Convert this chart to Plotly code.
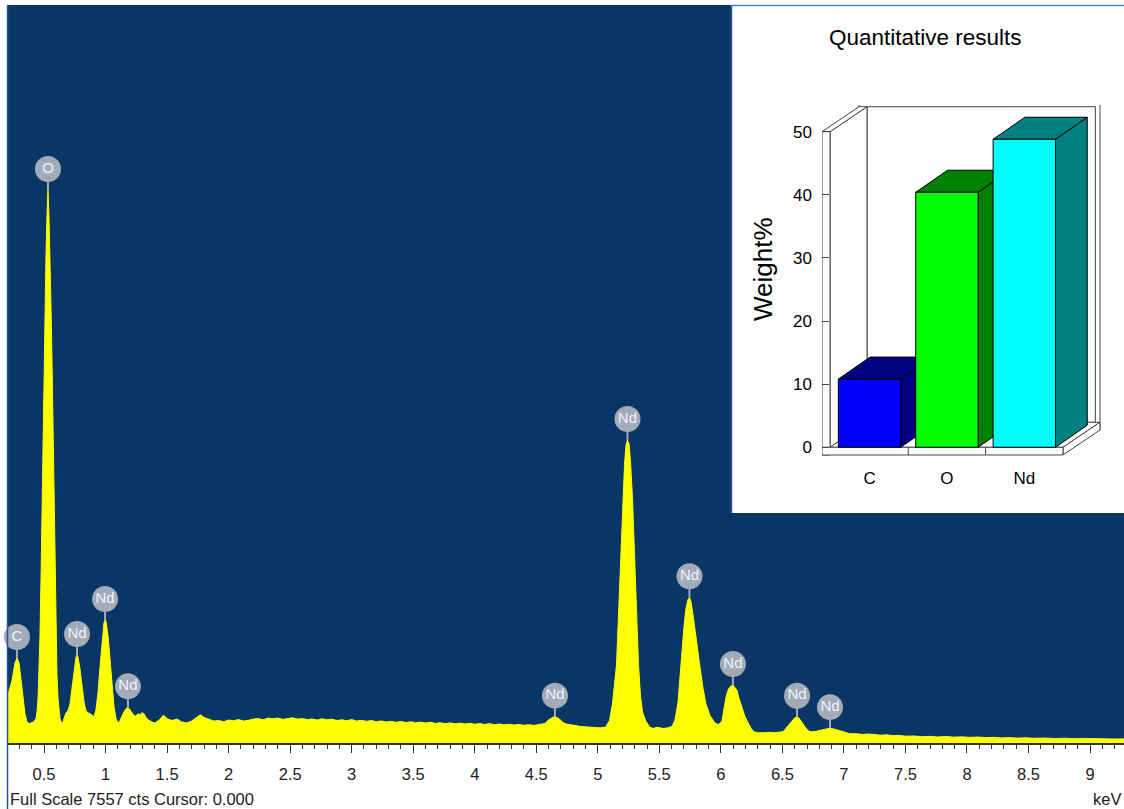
import plotly.graph_objects as go

W, H = 1124, 809

# ---------------- spectrum data (keV, counts) ----------------
energy_kev = [
    0.207, 0.240, 0.264, 0.280, 0.297, 0.313, 0.329, 0.345, 0.362, 0.378,
    0.394, 0.419, 0.435, 0.443, 0.451, 0.459, 0.467, 0.475, 0.484, 0.492,
    0.500, 0.508, 0.516, 0.524, 0.532, 0.540, 0.549, 0.557, 0.565, 0.573,
    0.581, 0.589, 0.597, 0.605, 0.614, 0.622, 0.630, 0.646,
    0.662, 0.679, 0.695, 0.711, 0.727, 0.744, 0.760, 0.768, 0.776, 0.792,
    0.809, 0.825, 0.841, 0.857, 0.874, 0.890, 0.906,
    0.922, 0.939, 0.955, 0.971, 0.987, 0.996, 1.004, 1.020, 1.036, 1.052,
    1.069, 1.085, 1.101,
    1.117, 1.134, 1.150, 1.166, 1.182, 1.199, 1.215, 1.231, 1.247, 1.264,
    1.280, 1.296, 1.312, 1.329, 1.345, 1.361, 1.377, 1.402,
    1.44, 1.47, 1.50, 1.54, 1.58, 1.62, 1.66, 1.70, 1.74, 1.77,
    1.80, 1.84, 1.88, 1.92, 1.96, 2.00, 2.04, 2.08, 2.12, 2.16,
    2.20, 2.24, 2.28, 2.32, 2.36, 2.40, 2.44, 2.48, 2.52, 2.56,
    2.60, 2.64, 2.68, 2.72, 2.76, 2.80, 2.84, 2.88, 2.92, 2.96,
    3.00, 3.04, 3.08, 3.12, 3.16, 3.20, 3.24, 3.28, 3.32, 3.36,
    3.40, 3.44, 3.48, 3.52, 3.56, 3.60, 3.64, 3.68, 3.72, 3.76,
    3.80, 3.84, 3.88, 3.92, 3.96, 4.00, 4.04, 4.08, 4.12, 4.16,
    4.20, 4.24, 4.28, 4.32, 4.36, 4.40, 4.44, 4.48, 4.52,
    4.571, 4.595, 4.620, 4.636, 4.652, 4.669, 4.693, 4.717, 4.742, 4.774,
    4.815, 4.855, 4.896, 4.937, 4.977, 5.018,
    5.062, 5.095, 5.119, 5.136, 5.152, 5.168, 5.184, 5.201, 5.217, 5.229,
    5.241, 5.254, 5.266, 5.282, 5.298, 5.315, 5.331, 5.347, 5.363, 5.388,
    5.420,
    5.448, 5.489, 5.530, 5.571, 5.603,
    5.627, 5.652, 5.668, 5.684, 5.701, 5.717, 5.733, 5.745, 5.757, 5.774,
    5.790, 5.806, 5.830, 5.855, 5.879, 5.912, 5.952, 5.977,
    5.993, 6.009, 6.026, 6.042, 6.058, 6.074, 6.098, 6.115, 6.131, 6.147,
    6.172, 6.196, 6.220, 6.245, 6.269, 6.302,
    6.359, 6.399, 6.440, 6.480, 6.505, 6.529, 6.554, 6.578, 6.602, 6.619,
    6.635, 6.651, 6.667, 6.692, 6.716, 6.740,
    6.765, 6.806, 6.846, 6.887, 6.928, 6.968, 7.009, 7.049,
    7.10, 7.15, 7.20, 7.25, 7.30, 7.35, 7.40, 7.45, 7.50, 7.57,
    7.63, 7.70, 7.76, 7.83, 7.89, 7.96, 8.02, 8.09, 8.15, 8.22,
    8.28, 8.35, 8.41, 8.48, 8.54, 8.63, 8.71, 8.79, 8.87, 8.95,
    9.03, 9.11, 9.19, 9.28,
]
counts = [
    500, 640, 820, 870, 820, 650, 460, 300, 215, 200,
    205, 220, 250, 320, 450, 700, 1100, 1650, 2450, 3200,
    3900, 4450, 5000, 5400, 5663, 5400, 5000, 4450, 3900, 3200,
    2450, 1650, 1100, 700, 450, 320, 250, 190,
    260, 310, 330, 400, 560, 740, 880, 901, 880, 760,
    580, 420, 330, 310, 300, 280, 270,
    340, 520, 780, 1050, 1230, 1260, 1240, 1100, 850, 580,
    370, 250, 205,
    230, 280, 320, 350, 365, 340, 310, 280, 275, 300,
    290, 310, 300, 260, 240, 225, 215, 205,
    240, 285, 250, 230, 245, 215, 205, 225, 260, 290,
    262, 240, 225, 230, 218, 235, 228, 240, 225, 232,
    245, 250, 238, 255, 248, 256, 242, 250, 258, 245,
    250, 240, 246, 235, 248, 238, 244, 230, 238, 228,
    240, 225, 232, 222, 230, 218, 226, 215, 222, 212,
    220, 210, 218, 208, 214, 205, 212, 200, 208, 198,
    206, 196, 204, 195, 202, 192, 200, 190, 198, 188,
    195, 186, 192, 184, 190, 182, 188, 180, 188,
    200, 230, 255, 265, 270, 262, 240, 210, 195, 185,
    180, 170, 165, 160, 158, 155,
    160, 230, 400, 600, 800, 1300, 1850, 2450, 2850, 3050,
    3103, 3060, 2880, 2500, 1950, 1350, 800, 480, 320, 230,
    165,
    150, 160, 148, 155, 170,
    236, 420, 700, 950, 1200, 1380, 1470, 1492, 1450, 1310,
    1150, 970, 781, 560, 400, 280, 205, 190,
    200, 225, 360, 470, 540, 575, 594, 570, 540, 460,
    365, 270, 210, 150, 115, 105,
    105, 110, 105, 110, 116, 150, 190, 225, 260, 269,
    255, 225, 190, 150, 120, 115,
    118, 130, 140, 152, 140, 125, 112, 95,
    95, 88, 92, 85, 80, 84, 75, 78, 70, 72,
    65, 68, 62, 66, 60, 63, 58, 61, 55, 58,
    52, 55, 50, 53, 48, 51, 46, 49, 44, 47,
    43, 45, 41, 42,
]

# identified peaks (keV, counts at the top)
peak_energy = [0.280, 0.532, 0.768, 0.996, 1.182, 4.652, 5.241, 5.745, 6.098, 6.619, 6.887]
peak_counts = [870, 5663, 901, 1260, 365, 270, 3103, 1492, 594, 269, 152]
peak_labels = ["C", "O", "Nd", "Nd", "Nd", "Nd", "Nd", "Nd", "Nd", "Nd", "Nd"]

tick_values = [0.5, 1.0, 1.5, 2.0, 2.5, 3.0, 3.5, 4.0, 4.5, 5.0, 5.5, 6.0, 6.5, 7.0, 7.5, 8.0, 8.5, 9.0]
tick_labels = ["0.5", "1", "1.5", "2", "2.5", "3", "3.5", "4", "4.5", "5", "5.5", "6", "6.5", "7", "7.5", "8", "8.5", "9"]

full_scale = 7557
footer_text = "Full Scale 7557 cts Cursor: 0.000"
unit_text = "keV"

# ---------------- inset: quantitative results ----------------
elements = ["C", "O", "Nd"]
weight_pct = [10.8, 40.4, 48.8]
front_colors = ["#0000ff", "#00ff00", "#00ffff"]
shade_colors = ["#000080", "#008000", "#008080"]
inset_ticks = [0, 10, 20, 30, 40, 50]
inset_title = "Quantitative results"
inset_ytitle = "Weight%"

FONT = "Liberation Sans, Arial, sans-serif"
BG = "#0a3666"


def px(x):
    return x / W


def py(y):
    return 1 - y / H


fig = go.Figure()

# spectrum
fig.add_trace(go.Scatter(
    x=energy_kev, y=counts, mode="lines", fill="tozeroy",
    line=dict(color="#ffff00", width=1), fillcolor="#ffff00",
    hoverinfo="skip", xaxis="x", yaxis="y",
))

# peak labels: stems + grey discs
cnt_per_px = full_scale / (743 - 5)
offset = 21 * cnt_per_px
stem_x, stem_y = [], []
for e, c in zip(peak_energy, peak_counts):
    stem_x += [e, e, None]
    stem_y += [c, c + offset, None]
fig.add_trace(go.Scatter(
    x=stem_x, y=stem_y, mode="lines", line=dict(color="#a3aab8", width=2),
    hoverinfo="skip", xaxis="x", yaxis="y",
))
fig.add_trace(go.Scatter(
    x=peak_energy, y=[c + offset for c in peak_counts], mode="markers+text",
    text=peak_labels, textposition="middle center",
    textfont=dict(family=FONT, size=15, color="#eef3fb"),
    marker=dict(size=26, color="#a3aab8", line=dict(width=0)),
    hoverinfo="skip", xaxis="x", yaxis="y", cliponaxis=False,
))

# ---- inset 3D bar chart (polygons built from the values) ----
DX, DY = 0.478, 3.96        # frame depth offset (data units)
BDX, BDY = 0.41, 3.49       # bar depth offset
HW = 0.403                  # half bar width
XL, XW, XR = -0.614, -0.51, 2.50   # left wall outer / inner, floor right edge
FT = 1.22                   # floor thickness
YMAX = inset_ticks[-1]
LINE = "#444444"


def poly(xs, ys, fill, lc=LINE, lw=1):
    fig.add_trace(go.Scatter(
        x=list(xs) + [xs[0]], y=list(ys) + [ys[0]], mode="lines", fill="toself",
        fillcolor=fill, line=dict(color=lc, width=lw), hoverinfo="skip",
        xaxis="x2", yaxis="y2",
    ))


# back wall (outer slab + inner face)
poly([XL + DX, XR + DX, XR + DX, XL + DX], [DY - FT, DY - FT, YMAX + DY + 0.6, YMAX + DY + 0.6], "white")
poly([XW + DX, XR + DX - 0.06, XR + DX - 0.06, XW + DX], [DY, DY, YMAX + DY, YMAX + DY], "white")
# left wall
poly([XW, XW + DX, XW + DX, XW], [0, DY, YMAX + DY, YMAX], "white")
poly([XL, XW, XW + DX, XL + DX], [YMAX, YMAX, YMAX + DY, YMAX + DY], "white")
poly([XL, XW, XW, XL], [-FT, -FT, YMAX, YMAX], "white")
# floor
poly([XW, XR, XR + DX, XW + DX], [0, 0, DY, DY], "white")
poly([XR, XR + DX, XR + DX, XR], [-FT, DY - FT, DY, 0], "white")
poly([XL, XR, XR, XL], [-FT, -FT, 0, 0], "white")
fig.add_trace(go.Scatter(
    x=[0.5, 0.5, None, 1.5, 1.5], y=[-FT, 0, None, -FT, 0], mode="lines",
    line=dict(color=LINE, width=1), hoverinfo="skip", xaxis="x2", yaxis="y2",
))

# bars
for i, (v, fc, sc) in enumerate(zip(weight_pct, front_colors, shade_colors)):
    x0, x1 = i - HW, i + HW
    poly([x1, x1 + BDX, x1 + BDX, x1], [0, BDY, v + BDY, v], sc, "black")
    poly([x0, x1, x1 + BDX, x0 + BDX], [v, v, v + BDY, v + BDY], sc, "black")
    poly([x0, x1, x1, x0], [0, 0, v, v], fc, "black")

# ---------------- layout ----------------
shapes = [
    # dark spectrum background
    dict(type="rect", xref="paper", yref="paper", x0=px(8), x1=1.0, y0=py(743), y1=py(5),
         fillcolor=BG, line=dict(width=0), layer="below"),
    # white inset panel
    dict(type="rect", xref="paper", yref="paper", x0=px(731), x1=1.0, y0=py(513), y1=py(5),
         fillcolor="white", line=dict(width=0), layer="below"),
    dict(type="line", xref="paper", yref="paper", x0=px(731.5), x1=px(731.5), y0=py(513), y1=py(5),
         line=dict(color="#2a5690", width=1.5), layer="above"),
    dict(type="line", xref="paper", yref="paper", x0=px(731), x1=1.0, y0=py(5.5), y1=py(5.5),
         line=dict(color="#5a80b2", width=1.5), layer="above"),
    # left window border
    dict(type="line", xref="paper", yref="paper", x0=px(7.5), x1=px(7.5), y0=0, y1=py(5),
         line=dict(color="#2a5690", width=1.5), layer="above"),
]

annotations = [
    dict(text=footer_text, xref="paper", yref="paper", x=px(8), y=py(799), xanchor="left",
         yanchor="middle", showarrow=False, font=dict(family=FONT, size=16.5, color="#222222")),
    dict(text=unit_text, xref="paper", yref="paper", x=px(1123), y=py(799), xanchor="right",
         yanchor="middle", showarrow=False, font=dict(family=FONT, size=16.5, color="#222222")),
    dict(text=inset_title, xref="paper", yref="paper", x=px(925), y=py(37), xanchor="center",
         yanchor="middle", showarrow=False, font=dict(family=FONT, size=22.5, color="black")),
    dict(text=inset_ytitle, xref="paper", yref="paper", x=px(763), y=py(269), xanchor="center",
         yanchor="middle", showarrow=False, textangle=-90,
         font=dict(family=FONT, size=26, color="black")),
]

fig.update_layout(
    width=W, height=H, margin=dict(l=0, r=0, t=0, b=0),
    paper_bgcolor="white", plot_bgcolor="rgba(0,0,0,0)", showlegend=False,
    font=dict(family=FONT),
    xaxis=dict(
        domain=[px(8), 1.0], range=[0.2072, 9.276], anchor="y",
        tickvals=tick_values, ticktext=tick_labels,
        ticks="outside", ticklen=8, tickwidth=1, tickcolor="#333333",
        minor=dict(dtick=0.1, tick0=0, ticks="outside", ticklen=4, tickcolor="#333333", tickwidth=1),
        showline=True, linecolor="#333333", linewidth=1.5, mirror=False,
        showgrid=False, zeroline=False,
        tickfont=dict(family=FONT, size=16.5, color="#222222"),
        ticklabelstandoff=7,
    ),
    yaxis=dict(
        domain=[py(743), py(5)], range=[0, full_scale], anchor="x",
        visible=False, showgrid=False, zeroline=False,
    ),
    xaxis2=dict(
        domain=[px(822), px(1101)], range=[-0.614, 2.991], anchor="y2",
        tickvals=[0, 1, 2], ticktext=elements, ticks="", showline=False,
        showgrid=False, zeroline=False,
        tickfont=dict(family=FONT, size=17, color="black"),
        ticklabelstandoff=9,
    ),
    yaxis2=dict(
        domain=[py(457), py(105)], range=[-1.54, 54.23], anchor="x2",
        tickvals=inset_ticks, ticks="inside", ticklen=7, tickcolor=LINE,
        showline=False, showgrid=False, zeroline=False,
        tickfont=dict(family=FONT, size=17, color="black"),
        ticklabelstandoff=9,
    ),
    shapes=shapes,
    annotations=annotations,
)

fig.write_html(
    "out.html",
    config={"displayModeBar": False},
    post_script="document.body.style.margin='0';document.body.style.overflow='hidden';",
)
